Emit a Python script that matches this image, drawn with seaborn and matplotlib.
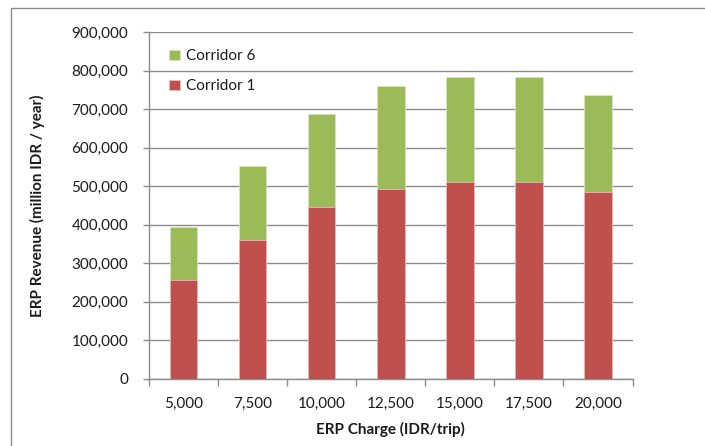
import matplotlib
matplotlib.use("Agg")
import matplotlib.pyplot as plt
from matplotlib.patches import Rectangle
from matplotlib.ticker import FuncFormatter, FixedLocator
import seaborn as sns
import pandas as pd
import numpy as np

# ERP charge levels and annual revenue per corridor (million IDR / year)
charges = ["5,000", "7,500", "10,000", "12,500", "15,000", "17,500", "20,000"]
corridor1 = [256000, 360000, 447000, 493000, 512000, 510000, 486000]
corridor6 = [138000, 193000, 241000, 267000, 272000, 273000, 250000]

sns.set_theme(style="white")
plt.rcParams["font.family"] = ["Lato", "DejaVu Sans"]

red = "#C0504D"
green = "#9BBB59"
grid_gray = "#8C8C8C"
text_col = "#1a1a1a"
fs = 11

df = pd.DataFrame({
    "charge": charges,
    "c1": corridor1,
    "total": np.array(corridor1) + np.array(corridor6),
})

fig = plt.figure(figsize=(7.05, 4.46), dpi=100)
ax = fig.add_axes([149 / 705, 1 - 378.5 / 446, (632.5 - 149) / 705, (378.5 - 32.3) / 446])

# stacked bars: full height in green, Corridor 1 drawn over the lower part
sns.barplot(data=df, x="charge", y="total", color=green, width=0.4,
            saturation=1, ax=ax, label="Corridor 6",
            edgecolor="#D7E4BD", linewidth=0.6, zorder=3)
sns.barplot(data=df, x="charge", y="c1", color=red, width=0.4,
            saturation=1, ax=ax, label="Corridor 1",
            edgecolor="#E6B9B8", linewidth=0.6, zorder=3)

ax.set_ylim(0, 900000)
ax.set_xlim(-0.5, len(charges) - 0.5)
ax.set_yticks(np.arange(0, 900001, 100000))
ax.yaxis.set_major_formatter(FuncFormatter(lambda v, p: f"{int(v):,}"))

ax.yaxis.grid(True, color=grid_gray, linewidth=1.0, zorder=0)
ax.set_axisbelow(True)
for s in ["top", "right"]:
    ax.spines[s].set_visible(False)
for s in ["left", "bottom"]:
    ax.spines[s].set_color(grid_gray)
    ax.spines[s].set_linewidth(1.0)

# category boundary ticks on the x axis
ax.xaxis.set_minor_locator(FixedLocator(np.arange(-0.5, len(charges), 1.0)))
ax.tick_params(axis="x", which="minor", length=5, color=grid_gray, width=1, bottom=True)
ax.tick_params(axis="x", which="major", length=0, pad=13, labelsize=fs, labelcolor=text_col)
ax.tick_params(axis="y", which="major", length=4, color=grid_gray, width=1, left=True,
               pad=11, labelsize=fs, labelcolor=text_col)

ax.set_xlabel("ERP Charge (IDR/trip)", fontsize=fs, fontweight="bold", labelpad=8, color=text_col)
ax.set_ylabel("ERP Revenue (million IDR / year)", fontsize=fs, fontweight="bold", labelpad=19, color=text_col)

leg = ax.legend(loc="upper left", bbox_to_anchor=(0.02, 0.982), frameon=False,
                fontsize=fs, handlelength=0.7, handleheight=0.7, handletextpad=0.4,
                labelspacing=1.05, borderaxespad=0.3)
for t in leg.get_texts():
    t.set_color(text_col)

# outer chart-area frame
fig.patches.append(Rectangle((11 / 705, -0.1), 1.2, 1 - 8 / 446 + 0.1,
                             transform=fig.transFigure, fill=False,
                             edgecolor="#8C8C8C", linewidth=1.0))

fig.savefig("out.png", dpi=100)
